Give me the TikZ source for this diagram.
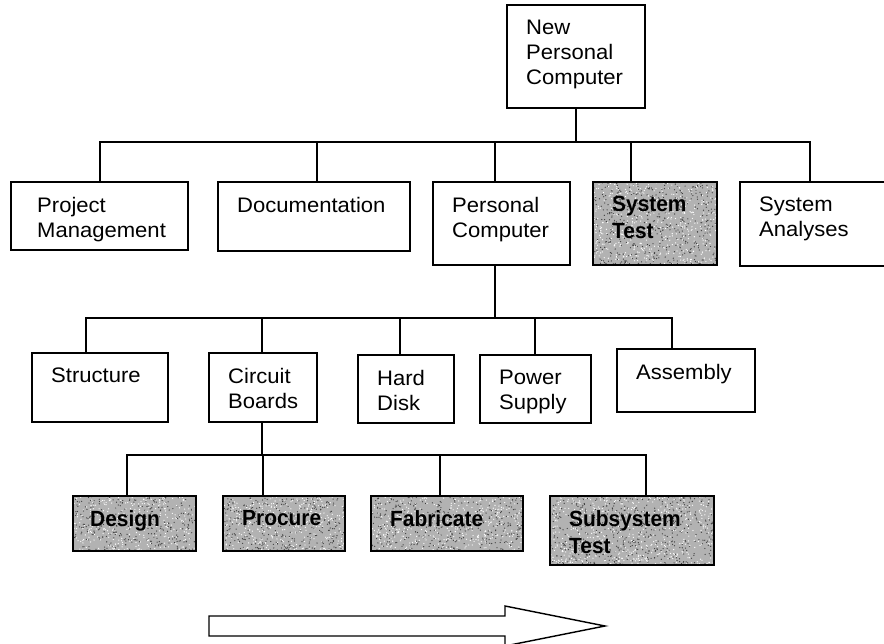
\documentclass[tikz,border=0pt]{standalone}
\usepackage{fontspec}
\usetikzlibrary{calc}
\setmainfont{Liberation Sans}[FakeStretch=1.05, BoldFeatures={FakeStretch=0.95}]
\begin{document}
\begin{tikzpicture}[x=1pt, y={(0pt,-1pt)},
  box/.style={draw, line width=1.4pt, inner sep=0pt, outer sep=0pt, anchor=north west, fill=white},
  shadedbox/.style={box, fill=black!30, speckle=#1},
  shadedbox/.default=500,
  % grainy screen texture inside the highlighted boxes
  speckle/.style={path picture={
      \foreach \i in {1,...,#1}{
        \fill[black!75] let \p1=(path picture bounding box.south west),
                            \p2=(path picture bounding box.north east) in
          ({\x1+rnd*(\x2-\x1)},{\y1+rnd*(\y2-\y1)}) circle[radius=0.65pt];
        \fill[white] let \p1=(path picture bounding box.south west),
                         \p2=(path picture bounding box.north east) in
          ({\x1+rnd*(\x2-\x1)},{\y1+rnd*(\y2-\y1)}) circle[radius=0.65pt];
      }}},
  lbl/.style={anchor=north west, inner sep=0pt, align=left, xshift=19pt, yshift=-15pt,
              font=\fontsize{21}{25}\selectfont},
  blbl/.style={lbl, yshift=1pt, font=\fontsize{22}{27}\selectfont\bfseries},
  wire/.style={line width=1.1pt},
  bigarrow/.style={draw, line width=1.4pt, line join=miter}]
\pgfmathsetseed{7}
\useasboundingbox (0,0) rectangle (884,644);
\clip (0,0) rectangle (884,644);

% top level
\node[box, minimum width=138pt, minimum height=103pt,
      label={[lbl]north west:{New\\Personal\\Computer}}] (root) at (507,5) {};

% first level
\node[box, minimum width=177pt, minimum height=68pt,
      label={[lbl, xshift=7pt]north west:{Project\\Management}}] (pm) at (11,182) {};
\node[box, minimum width=192pt, minimum height=69pt,
      label={[lbl]north west:{Documentation}}] (doc) at (218,182) {};
\node[box, minimum width=137pt, minimum height=83pt,
      label={[lbl]north west:{Personal\\Computer}}] (pc) at (433,182) {};
\node[shadedbox=500, minimum width=124pt, minimum height=83pt,
      label={[blbl]north west:{System\\Test}}] (st) at (593,182) {};
\node[box, minimum width=160pt, minimum height=84pt,
      label={[lbl]north west:{System\\Analyses}}] (sa) at (740,182) {};

% second level
\node[box, minimum width=136pt, minimum height=69pt,
      label={[lbl]north west:{Structure}}] (str) at (32,353) {};
\node[box, minimum width=108pt, minimum height=69pt,
      label={[lbl]north west:{Circuit\\Boards}}] (cb) at (209,353) {};
\node[box, minimum width=96pt, minimum height=68pt,
      label={[lbl]north west:{Hard\\Disk}}] (hd) at (358,355) {};
\node[box, minimum width=111pt, minimum height=68pt,
      label={[lbl]north west:{Power\\Supply}}] (ps) at (480,355) {};
\node[box, minimum width=138pt, minimum height=63pt,
      label={[lbl]north west:{Assembly}}] (as) at (617,349) {};

% third level
\node[shadedbox=340, minimum width=123pt, minimum height=55pt,
      label={[blbl, xshift=-2pt]north west:{Design}}] (des) at (73,496) {};
\node[shadedbox=340, minimum width=122pt, minimum height=55pt,
      label={[blbl]north west:{Procure}}] (pro) at (223,496) {};
\node[shadedbox=420, minimum width=152pt, minimum height=55pt,
      label={[blbl]north west:{Fabricate}}] (fab) at (371,496) {};
\node[shadedbox=560, minimum width=164pt, minimum height=69pt,
      label={[blbl]north west:{Subsystem\\Test}}] (sub) at (550,496) {};

% bus points
\coordinate (b1) at (576,142);
\coordinate (b2) at (495,318);
\coordinate (b3) at (262,455);

% connectors: level 0 -> 1
\draw[wire] (root.south) -- (b1);
\draw[wire] ([xshift=89pt]pm.north west) |- (b1);
\draw[wire] ([xshift=99pt]doc.north west) |- (b1);
\draw[wire] ([xshift=62pt]pc.north west) |- (b1);
\draw[wire] ([xshift=38pt]st.north west) |- (b1);
\draw[wire] ([xshift=70pt]sa.north west) |- (b1);

% connectors: level 1 -> 2
\draw[wire] ([xshift=62pt]pc.south west) -- (b2);
\draw[wire] ([xshift=54pt]str.north west) |- (b2);
\draw[wire] ([xshift=53pt]cb.north west) |- (b2);
\draw[wire] ([xshift=42pt]hd.north west) |- (b2);
\draw[wire] ([xshift=55pt]ps.north west) |- (b2);
\draw[wire] ([xshift=55pt]as.north west) |- (b2);

% connectors: level 2 -> 3
\draw[wire] ([xshift=53pt]cb.south west) -- (b3);
\draw[wire] ([xshift=54pt]des.north west) |- (b3);
\draw[wire] ([xshift=40pt]pro.north west) |- (b3);
\draw[wire] ([xshift=69pt]fab.north west) |- (b3);
\draw[wire] ([xshift=96pt]sub.north west) |- (b3);

% direction arrow
\draw[bigarrow] (209,616) -- (505,616) -- (505,606) -- (605,626) -- (505,646)
  -- (505,636) -- (209,636) -- cycle;
\end{tikzpicture}
\end{document}
